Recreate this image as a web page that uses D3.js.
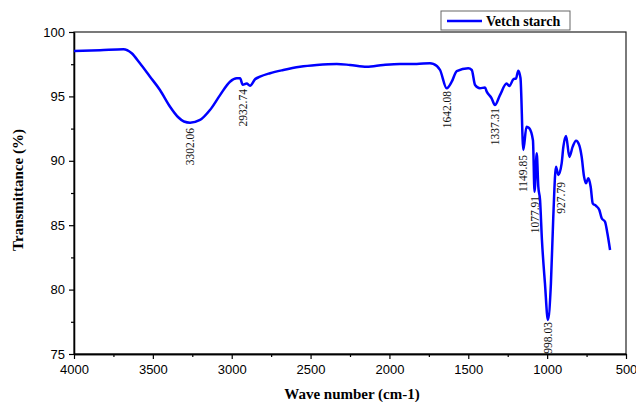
<!DOCTYPE html>
<html>
<head>
<meta charset="utf-8">
<script src="https://cdn.jsdelivr.net/npm/d3@7"></script>
<style>
  html, body { margin: 0; padding: 0; background: #fff; }
  svg { display: block; }
</style>
</head>
<body>
<svg id="chart" width="636" height="402"></svg>
<script>
// ---- data (wavenumber cm-1, transmittance %) ----
const wavenumbers = [4000, 3835, 3687, 3634, 3582, 3518, 3455, 3391, 3339, 3303, 3264, 3201, 3138, 3074, 3011, 2968, 2947, 2930, 2905, 2884, 2852, 2821, 2757, 2673, 2567, 2461, 2334, 2250, 2144, 2039, 1933, 1827, 1743, 1722, 1679, 1637, 1605, 1573, 1500, 1478, 1457, 1426, 1394, 1383, 1352, 1331, 1299, 1257, 1240, 1214, 1197, 1183, 1169, 1151, 1131, 1115, 1090, 1080, 1066, 1056, 1045, 1033, 1014, 995, 976, 961, 944, 929, 908, 897, 880, 859, 838, 817, 796, 781, 766, 754, 739, 724, 711, 690, 669, 654, 633, 618, 601];
const transmittance = [98.52, 98.58, 98.66, 98.35, 97.57, 96.53, 95.5, 94.2, 93.38, 93.05, 92.96, 93.17, 93.94, 95.1, 96.14, 96.4, 96.4, 95.9, 96.0, 95.83, 96.33, 96.53, 96.8, 97.05, 97.3, 97.44, 97.52, 97.44, 97.3, 97.44, 97.52, 97.52, 97.57, 97.52, 97.05, 95.63, 96.14, 96.97, 97.18, 97.05, 95.88, 95.63, 95.69, 95.37, 94.85, 94.33, 95.1, 96.0, 95.8, 96.33, 96.4, 97.0, 96.43, 90.84, 92.65, 92.55, 91.6, 87.6, 90.58, 87.99, 86.96, 83.85, 80.5, 77.64, 80.5, 85.66, 89.54, 88.9, 89.8, 91.1, 91.93, 90.3, 91.1, 91.56, 91.2, 90.3, 88.77, 88.25, 88.64, 87.99, 86.7, 86.5, 86.18, 85.54, 85.27, 84.37, 83.07];

// peak annotations: text, and the (wavenumber, transmittance) where each label starts
const peakLabels = ["3302.06", "2932.74", "1642.08", "1337.31", "1149.85", "1077.91", "927.79", "998.03"];
const peakLabelW = [3264, 2930, 1637, 1331, 1151, 1080, 910, 995];
const peakLabelT = [92.55, 95.57, 95.42, 94.1, 90.45, 87.27, 88.35, 77.48];

const xTicks = [4000, 3500, 3000, 2500, 2000, 1500, 1000, 500];
const xMinorTicks = [3750, 3250, 2750, 2250, 1750, 1250, 750];
const yTicks = [75, 80, 85, 90, 95, 100];
const yMinorTicks = [77.5, 82.5, 87.5, 92.5, 97.5];

const seriesName = "Vetch starch";
const xTitle = "Wave number (cm-1)";
const yTitle = "Transmittance (%)";

// ---- layout ----
const M = { left: 74, right: 626, top: 32, bottom: 354 };
const lineColor = "#0000ff";
const serif = "'Liberation Serif', 'Times New Roman', serif";
const sans = "'Liberation Sans', Arial, sans-serif";

const svg = d3.select("#chart");
const x = d3.scaleLinear().domain([4000, 500]).range([M.left, M.right]);
const y = d3.scaleLinear().domain([75, 100]).range([M.bottom, M.top]);

const data = wavenumbers.map((w, i) => ({ w, t: transmittance[i] }));

// frame
svg.append("rect")
  .attr("x", M.left).attr("y", M.top)
  .attr("width", M.right - M.left).attr("height", M.bottom - M.top)
  .attr("fill", "none").attr("stroke", "#222").attr("stroke-width", 1.2);

// axes
function styleAxis(g) {
  g.selectAll("path").attr("stroke", "#000").attr("stroke-width", 1.3);
  g.selectAll("line").attr("stroke", "#000").attr("stroke-width", 1.2);
  g.selectAll("text").attr("font-family", sans).attr("font-size", "13px").attr("fill", "#000");
}
const gx = svg.append("g").attr("transform", `translate(0,${M.bottom})`)
  .call(d3.axisBottom(x).tickValues(xTicks).tickSize(5).tickPadding(6).tickSizeOuter(0).tickFormat(d3.format("d")));
styleAxis(gx);
const gxm = svg.append("g").attr("transform", `translate(0,${M.bottom})`)
  .call(d3.axisBottom(x).tickValues(xMinorTicks).tickSize(3).tickFormat("").tickSizeOuter(0));
styleAxis(gxm);

const gy = svg.append("g").attr("transform", `translate(${M.left},0)`)
  .call(d3.axisLeft(y).tickValues(yTicks).tickSize(5).tickPadding(4).tickSizeOuter(0).tickFormat(d3.format("d")));
styleAxis(gy);
const gym = svg.append("g").attr("transform", `translate(${M.left},0)`)
  .call(d3.axisLeft(y).tickValues(yMinorTicks).tickSize(3).tickFormat("").tickSizeOuter(0));
styleAxis(gym);

// axis titles
svg.append("text")
  .attr("x", (M.left + M.right) / 2 + 2).attr("y", 399)
  .attr("text-anchor", "middle")
  .attr("font-family", serif).attr("font-weight", "bold").attr("font-size", "15px")
  .text(xTitle);
svg.append("text")
  .attr("transform", `translate(23,${(M.top + M.bottom) / 2 - 3}) rotate(-90)`)
  .attr("text-anchor", "middle")
  .attr("font-family", serif).attr("font-weight", "bold").attr("font-size", "15px")
  .text(yTitle);

// line
const line = d3.line()
  .x(d => x(d.w)).y(d => y(d.t))
  .curve(d3.curveMonotoneX);
svg.append("path")
  .datum(data)
  .attr("d", line)
  .attr("fill", "none")
  .attr("stroke", lineColor)
  .attr("stroke-width", 2.5)
  .attr("stroke-linejoin", "round");

// peak labels
peakLabels.forEach((lab, i) => {
  const px = x(peakLabelW[i]), py = y(peakLabelT[i]);
  svg.append("text")
    .attr("transform", `translate(${px},${py}) rotate(-90)`)
    .attr("text-anchor", "end")
    .attr("dy", "0.35em")
    .attr("font-family", serif).attr("font-size", "11.5px").attr("fill", "#111")
    .text(lab);
});

// legend
const lg = svg.append("g");
lg.append("rect")
  .attr("x", 441).attr("y", 11).attr("width", 129).attr("height", 19)
  .attr("fill", "#fff").attr("stroke", "#666").attr("stroke-width", 1);
lg.append("line")
  .attr("x1", 447).attr("x2", 482).attr("y1", 21).attr("y2", 21)
  .attr("stroke", lineColor).attr("stroke-width", 2.5);
lg.append("text")
  .attr("x", 486).attr("y", 26)
  .attr("font-family", serif).attr("font-weight", "bold").attr("font-size", "14px")
  .text(seriesName);
</script>
</body>
</html>
